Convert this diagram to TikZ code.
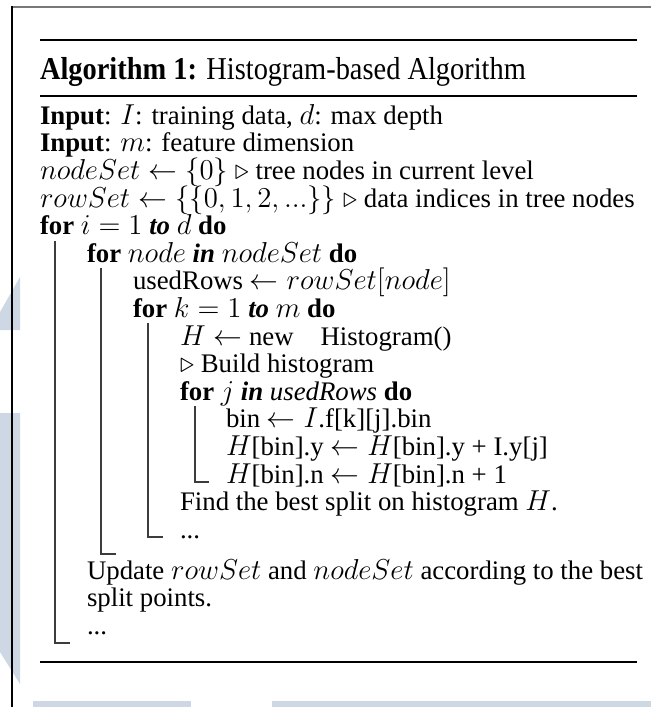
\documentclass[tikz,border=0pt]{standalone}
\usepackage{graphicx}
\usepackage{fontspec}
\setmainfont{Liberation Serif}
\definecolor{paleblue}{RGB}{205,216,228}
\definecolor{framegray}{RGB}{120,120,120}
\definecolor{blkgray}{RGB}{60,60,60}
\newcommand{\vt}[1]{\scalebox{1}[1.12]{#1}}
\begin{document}
\begin{tikzpicture}[x=0.5pt,y=-0.5pt,
  txt/.style={anchor=base west,inner sep=0pt,outer sep=0pt,font=\fontsize{13.4}{16}\selectfont},
  ttl/.style={anchor=base west,inner sep=0pt,outer sep=0pt,font=\fontsize{14.2}{17}\selectfont},
  blk/.style={draw=blkgray,line width=1.1pt},
  rulea/.style={draw=black,line width=1.1pt},
  ruleb/.style={draw=black,line width=0.8pt}]
\useasboundingbox (0,0) rectangle (651,707);
% background watermark shapes
\fill[paleblue] (0,312) -- (20,277) -- (20,330) -- (0,330) -- cycle;
\fill[paleblue] (0,413) -- (20,413) -- (20,684) -- (0,652) -- cycle;
\fill[paleblue] (33,701) rectangle (191,707);
\fill[paleblue] (272,701) rectangle (651,707);
% screenshot frame
\draw[framegray,line width=1pt] (12,6.5) -- (651,6.5);
\draw[black,line width=0.7pt] (12,6) -- (12,707);
% rules
\draw[rulea] (40,40) -- (637,40);
\draw[ruleb] (40,96) -- (637,96);
\draw[rulea] (40,662) -- (637,662);
% title
\node[ttl] (title) at (40,79) {\vt{\textbf{Algorithm 1:} Histogram-based Algorithm}};
% lines
\node[txt] (in1) at (40,124) {\textbf{Input}: $I$: training data, $d$: max depth};
\node[txt] (in2) at (40,151.5) {\textbf{Input}: $m$: feature dimension};
\node[txt] (ns) at (40,179) {$nodeSet \leftarrow \{0\}$ $\triangleright$ tree nodes in current level};
\node[txt] (rs) at (40,207) {$rowSet \leftarrow \{\{0,1,2,...\}\}$ $\triangleright$ data indices in tree nodes};
\node[txt] (fori) at (40,234.5) {\textbf{for} $i=1$ \textbf{\textit{to}} $d$ \textbf{do}};
\node[txt] (fornode) at (87,262) {\textbf{for} $node$ \textbf{\textit{in}} $nodeSet$ \textbf{do}};
\node[txt] (used) at (133,289.5) {usedRows $\leftarrow rowSet[node]$};
\node[txt] (fork) at (133,317) {\textbf{for} $k=1$ \textbf{\textit{to}} $m$ \textbf{do}};
\node[txt] (hnew) at (180,345) {$H\leftarrow$ new\quad Histogram()};
\node[txt] (build) at (180,372.5) {$\triangleright$ Build histogram};
\node[txt] (forj) at (180,400) {\textbf{for} $j$ \textbf{\textit{in}} \textit{usedRows} \textbf{do}};
\node[txt] (bin) at (226,427.5) {bin $\leftarrow I$.f[k][j].bin};
\node[txt] (hy) at (226,455) {$H$[bin].y $\leftarrow H$[bin].y + I.y[j]};
\node[txt] (hn) at (226,483) {$H$[bin].n $\leftarrow H$[bin].n + 1};
\node[txt] (find) at (180,510.5) {Find the best split on histogram $H$.};
\node[txt] (dots1) at (180,538) {...};
\node[txt] (upd) at (87,579) {Update $rowSet$ and $nodeSet$ according to the best};
\node[txt] (split) at (87,606.5) {split points.};
\node[txt] (dots2) at (87,634) {...};
% block lines
\draw[blk] (55,241) -- (55,643) -- (70,643);
\draw[blk] (101,268) -- (101,554) -- (116,554);
\draw[blk] (148,323) -- (148,537) -- (163,537);
\draw[blk] (195,406) -- (195,482) -- (209,482);
\end{tikzpicture}
\end{document}
